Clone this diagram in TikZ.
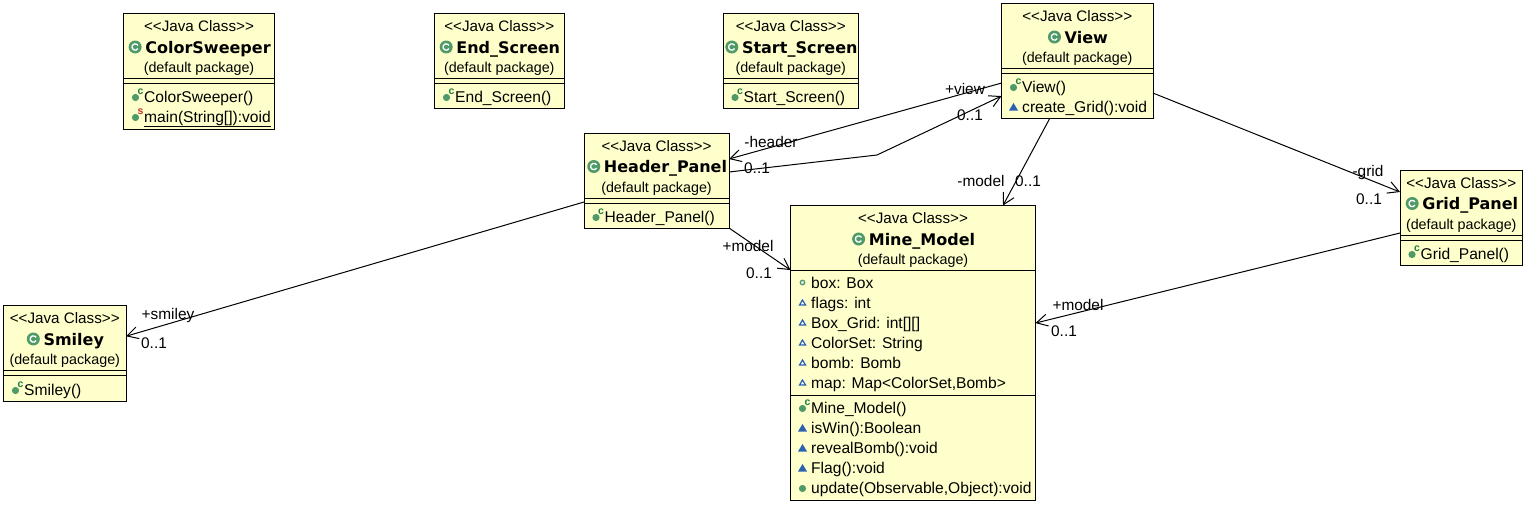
\documentclass[tikz,border=0pt]{standalone}
\usepackage{fontspec}
\setmainfont{Liberation Sans}
\newfontfamily\titlefont{DejaVu Sans}
\usetikzlibrary{arrows.meta,calc}
\definecolor{umlfill}{HTML}{FFFFCC}
\definecolor{icgreen}{HTML}{4F9A68}
\definecolor{icgreendark}{HTML}{1E7D3F}
\definecolor{icblue}{HTML}{2B62B0}
\definecolor{icred}{HTML}{C03030}
\tikzset{
  umlbox/.style={draw=black,fill=umlfill,line width=1pt,inner sep=0pt,outer sep=0pt},
  stereo/.style={anchor=base,inner sep=0pt,font=\fontsize{15.2}{16}\selectfont},
  classname/.style={anchor=base,inner sep=0pt,font=\titlefont\bfseries\fontsize{16}{17}\selectfont},
  pkg/.style={anchor=base,inner sep=0pt,font=\fontsize{14.3}{15}\selectfont},
  member/.style={anchor=base west,inner sep=0pt,font=\fontsize{15.6}{16}\selectfont},
  endlabel/.style={inner sep=0pt,font=\fontsize{15.4}{16}\selectfont},
  conn/.style={draw=black,line width=1pt},
  assoc/.style={conn,-{Straight Barb[length=11pt,width=12pt,line width=1pt]}},
  seprule/.style={draw=black,line width=1pt},
  icletter/.style={inner sep=0pt,font=\bfseries\fontsize{10.5}{10}\selectfont}
}
% #1 name #2 x1 #3 y1 #4 x2 #5 y2 #6 sep a #7 sep b #8 title
\newcommand{\umlclass}[8]{%
  \node[umlbox,minimum width={(#4-#2)*1pt},minimum height={(#5-#3)*1pt}] (#1) at ({(#2+#4)/2},{(#3+#5)/2}) {};
  \draw[seprule] (#1.west |- 0,#6) -- (#1.east |- 0,#6);
  \draw[seprule] (#1.west |- 0,#7) -- (#1.east |- 0,#7);
  \node[stereo] (#1-st) at ({(#2+#4)/2},{#3+18}) {<{}<Java Class>{}>};
  \node[classname] (#1-nm) at ({(#2+#4)/2+9},{#3+39.5}) {#8};
  \fill[icgreen] ($(#1-nm.base west)+(-10,-6)$) circle (6.5);
  \draw[white,line width=1.3pt] ($(#1-nm.base west)+(-10,-6)$) ++(30:3.2) arc (30:330:3.2);
  \node[pkg] (#1-pk) at ({(#2+#4)/2},{#3+59}) {(default package)};
}
% #1 name #2 box left #3 baseline #4 text
\newcommand{\ctormember}[4]{%
  \node[member] (#1) at ({#2+20.5},#3) {#4};
  \fill[icgreen] ({#2+12},{#3-4.5}) circle (3.6);
  \node[icletter,text=icgreendark] (#1-c) at ({#2+17},{#3-10.5}) {c};
}
\newcommand{\staticmember}[4]{%
  \node[member] (#1) at ({#2+20.5},#3) {#4};
  \fill[icgreen] ({#2+12},{#3-4.5}) circle (3.6);
  \node[icletter,text=icred] (#1-c) at ({#2+17},{#3-10.5}) {s};
}
\newcommand{\pkgmethod}[4]{%
  \node[member] (#1) at ({#2+20.5},#3) {#4};
  \fill[icblue] ({#2+12},{#3-9}) -- ({#2+16.5},{#3-1.5}) -- ({#2+7.5},{#3-1.5}) -- cycle;
}
\newcommand{\pubmethod}[4]{%
  \node[member] (#1) at ({#2+20.5},#3) {#4};
  \fill[icgreen] ({#2+12},{#3-4.5}) circle (3.6);
}
\newcommand{\pkgfield}[4]{%
  \node[member] (#1) at ({#2+20.5},#3) {#4};
  \draw[icblue,fill=white,line width=1.2pt] ({#2+12},{#3-8}) -- ({#2+15},{#3-3}) -- ({#2+9},{#3-3}) -- cycle;
}
\newcommand{\pubfield}[4]{%
  \node[member] (#1) at ({#2+20.5},#3) {#4};
  \draw[icgreen,fill=white,line width=1.4pt] ({#2+12},{#3-5.5}) circle (2.2);
}
\begin{document}
\begin{tikzpicture}[x=1pt,y=-1pt]
\useasboundingbox (0,0) rectangle (1526,504);
\umlclass{colorsweeper}{123.5}{13.5}{274.5}{129}{78}{83}{ColorSweeper}
\ctormember{cs-a}{123.5}{102}{ColorSweeper()}
\staticmember{cs-b}{123.5}{122}{\underline{main(String[]):void}}

\umlclass{endscreen}{434.5}{13.5}{564}{108}{78}{83}{End\_Screen}
\ctormember{es-a}{434.5}{102}{End\_Screen()}

\umlclass{startscreen}{723}{13.5}{858.5}{108}{78}{83}{Start\_Screen}
\ctormember{ss-a}{723}{102}{Start\_Screen()}

\umlclass{view}{1001.5}{3.5}{1153}{118}{68}{73}{View}
\ctormember{v-a}{1001.5}{92}{View()}
\pkgmethod{v-b}{1001.5}{112}{create\_Grid():void}

\umlclass{header}{584}{133}{729}{228}{198}{203}{Header\_Panel}
\ctormember{h-a}{584}{222}{Header\_Panel()}

\umlclass{gridp}{1400}{170}{1522.5}{265}{235}{240}{Grid\_Panel}
\ctormember{g-a}{1400}{259}{Grid\_Panel()}

\umlclass{smiley}{3.5}{305.5}{126}{401}{370}{375}{Smiley}
\ctormember{s-a}{3.5}{395}{Smiley()}

\umlclass{mine}{790.5}{205.5}{1035.5}{500}{270}{270}{Mine\_Model}
\draw[seprule] (mine.west |- 0,395) -- (mine.east |- 0,395);
\pubfield{m-a}{790.5}{288}{box: Box}
\pkgfield{m-b}{790.5}{308}{flags: int}
\pkgfield{m-c}{790.5}{328}{Box\_Grid: int[][]}
\pkgfield{m-d}{790.5}{348}{ColorSet: String}
\pkgfield{m-e}{790.5}{368}{bomb: Bomb}
\pkgfield{m-f}{790.5}{388}{map: Map<ColorSet,Bomb>}
\ctormember{m-g}{790.5}{413}{Mine\_Model()}
\pkgmethod{m-h}{790.5}{433}{isWin():Boolean}
\pkgmethod{m-i}{790.5}{453}{revealBomb():void}
\pkgmethod{m-j}{790.5}{473}{Flag():void}
\pubmethod{m-k}{790.5}{493}{update(Observable,Object):void}

\coordinate (bend) at (877,155);
\draw[assoc] ([yshift=-22.3pt]view.west) -- ([yshift=21.5pt]header.east);
\draw[assoc] ([yshift=8.5pt]header.east) -- (bend) -- ([yshift=-35.3pt]view.west);
\draw[assoc] ([xshift=-27.3pt]view.south) -- ([xshift=90pt]mine.north);
\draw[assoc] ([yshift=-32.3pt]view.east) -- ([yshift=25.5pt]gridp.west);
\draw[assoc] (header.south east) -- ([yshift=82.7pt]mine.west);
\draw[assoc] ([yshift=-21.5pt]header.west) -- ([yshift=17pt]smiley.east);
\draw[assoc] ([yshift=-15.5pt]gridp.west) -- ([yshift=29.7pt]mine.east);

\node[endlabel] (l1) at (965,89) {+view};
\node[endlabel] (l2) at (970,115) {0..1};
\node[endlabel] (l3) at (771,142) {-header};
\node[endlabel] (l4) at (757,168) {0..1};
\node[endlabel] (l5) at (981,181) {-model};
\node[endlabel] (l6) at (1028,181) {0..1};
\node[endlabel] (l7) at (1368,173) {-grid};
\node[endlabel] (l8) at (1369,199) {0..1};
\node[endlabel] (l9) at (748,246) {+model};
\node[endlabel] (l10) at (759,273) {0..1};
\node[endlabel] (l11) at (168,316) {+smiley};
\node[endlabel] (l12) at (154,343) {0..1};
\node[endlabel] (l13) at (1078,305) {+model};
\node[endlabel] (l14) at (1064,331) {0..1};
\end{tikzpicture}
\end{document}
